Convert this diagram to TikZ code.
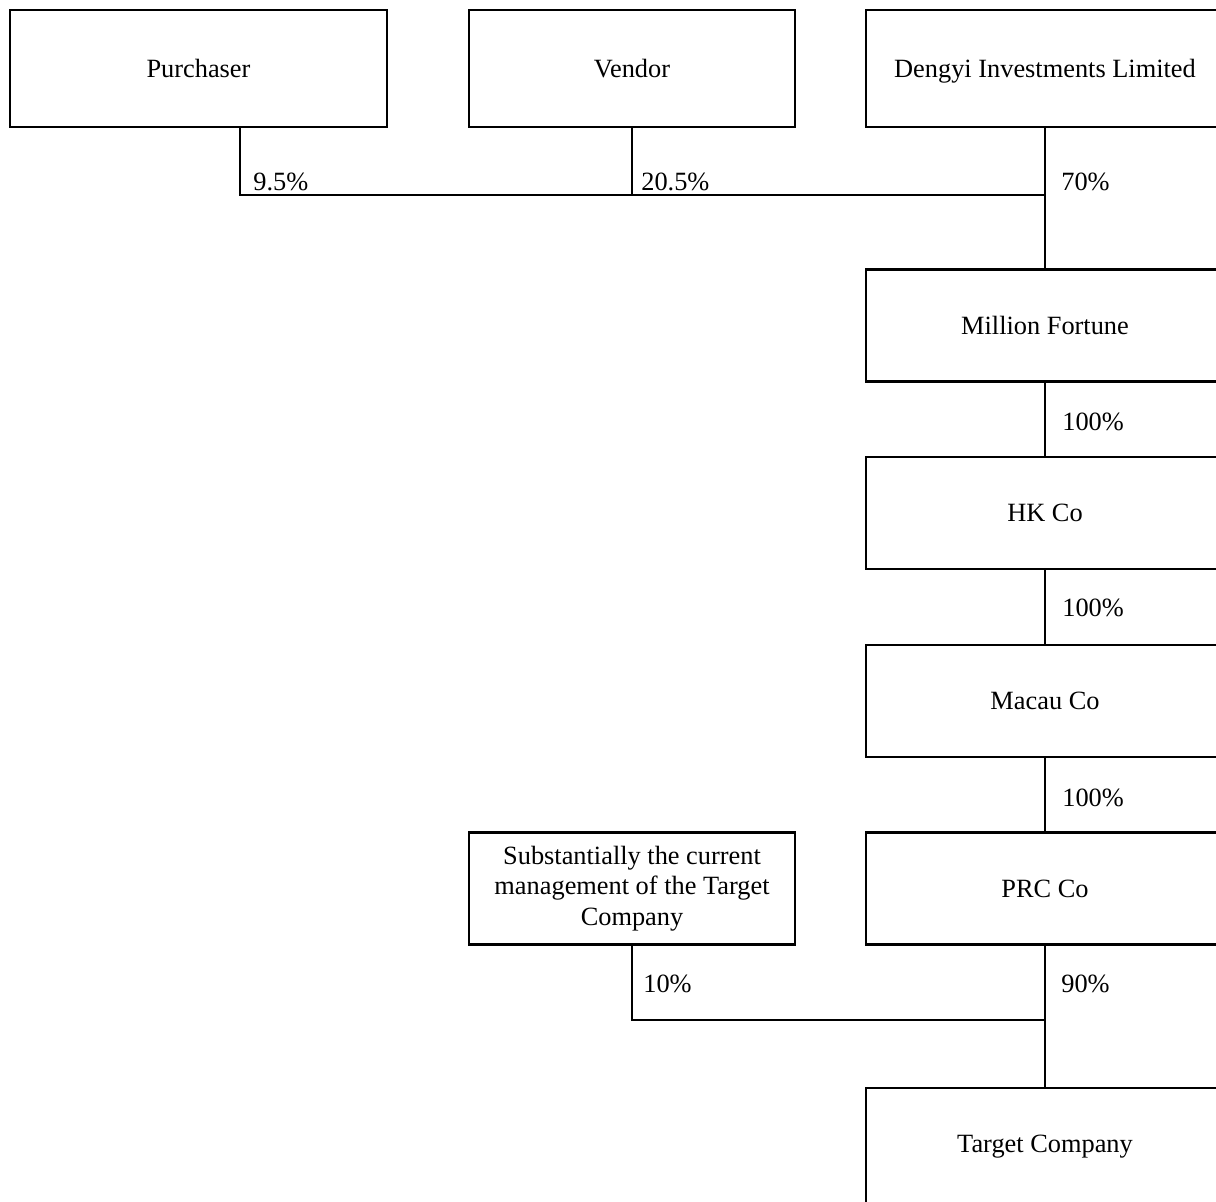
\documentclass[tikz,border=0pt]{standalone}
\usepackage{fontspec}
\setmainfont{Liberation Serif}
\usetikzlibrary{calc}
\tikzset{
	box/.style={rectangle,draw,line width=0.45mm,minimum width=71.6mm,minimum height=22.4mm,align=center,font=\fontsize{15}{17.5}\selectfont},
	link/.style={draw,line width=0.45mm},
	pct/.style={anchor=base west,inner sep=0pt,font=\fontsize{15}{17.5}\selectfont}
}
\begin{document}
\begin{tikzpicture}[x=0.2mm,y=-0.2mm]
	\useasboundingbox (0,0) rectangle (1216,1201);
	
	\node[box,minimum width=75.4mm,minimum height=23.4mm] (pur) at (198.5,68.5) {Purchaser};
	\node[box,minimum width=65.2mm,minimum height=23.4mm] (ven) at (632,68.5) {Vendor};
	\node[box,minimum height=23.4mm,text depth=0pt] (den) at (1045,68.5) {Dengyi Investments Limited};
	\node[box] (mf) at (1045,325.5) {Million Fortune};
	\node[box] (hk) at (1045,513) {HK Co};
	\node[box] (mac) at (1045,701) {Macau Co};
	\node[box] (prc) at (1045,888.5) {PRC Co};
	\node[box,minimum width=65.2mm] (sub) at (632,888.5) {Substantially the current\\ management of the Target\\ Company};
	\node[box,minimum height=23.4mm] (tgt) at (1045,1146.5) {Target Company};
	
	\coordinate (j1) at (1045,195);
	\coordinate (j2) at (1045,1020);
	
	\draw[link] ([xshift=8.3mm]pur.south) |- (j1);
	\draw[link] (ven.south) |- (j1);
	\draw[link] (den) -- (mf);
	\draw[link] (mf) -- (hk);
	\draw[link] (hk) -- (mac);
	\draw[link] (mac) -- (prc);
	\draw[link] (sub.south) |- (j2);
	\draw[link] (prc) -- (tgt);
	
	\node[pct] (p1) at (253,190) {9.5\%};
	\node[pct] (p2) at (641,190) {20.5\%};
	\node[pct] (p3) at (1061,190) {70\%};
	\node[pct] (p4) at (1062,430) {100\%};
	\node[pct] (p5) at (1062,616) {100\%};
	\node[pct] (p6) at (1062,806) {100\%};
	\node[pct] (p7) at (643,992) {10\%};
	\node[pct] (p8) at (1061,992) {90\%};
\end{tikzpicture}
\end{document}
